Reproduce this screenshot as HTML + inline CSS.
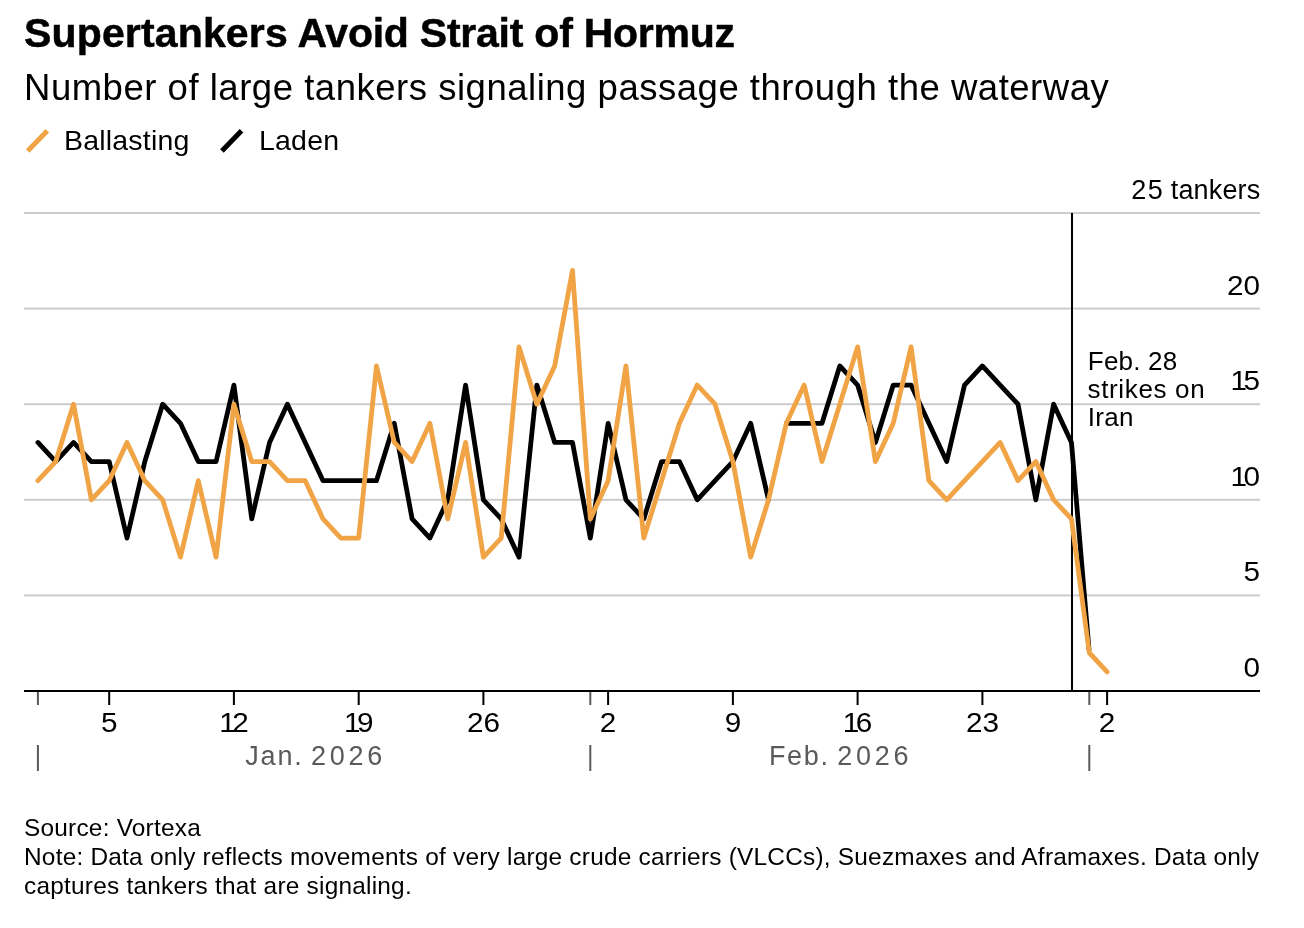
<!DOCTYPE html>
<html><head><meta charset="utf-8"><title>Supertankers Avoid Strait of Hormuz</title>
<style>
html,body{margin:0;padding:0;background:#fff}
svg{display:block}
text{font-family:"Liberation Sans",Arial,Helvetica,sans-serif;fill:#000}
.title{font-size:41px;font-weight:bold;letter-spacing:-0.1px;stroke:#000;stroke-width:0.5px;stroke-linejoin:round}
.sub{font-size:36.5px;letter-spacing:0.52px}
.leg{font-size:28.5px;letter-spacing:0.2px}
.ax{font-size:27px;letter-spacing:0px}
.lt{letter-spacing:0.2px}
.an{font-size:26px}
.mon{font-size:27px;fill:#5a5a5a}
.foot{font-size:24.4px;letter-spacing:0.23px}
</style></head><body>
<svg width="1304" height="928" viewBox="0 0 1304 928">
<rect width="1304" height="928" fill="#fff"/>
<text class="title" x="24" y="47"><tspan letter-spacing="0.15">Supertankers</tspan><tspan letter-spacing="-0.24"> Avoid Strait of Hormuz</tspan></text>
<text class="sub" x="24" y="100">Number of large tankers signaling passage through the waterway</text>
<line x1="27.7" y1="151" x2="47.3" y2="130.8" stroke="#f1a445" stroke-width="5"/>
<text class="leg" x="64" y="150">Ballasting</text>
<line x1="221.9" y1="151" x2="241.5" y2="130.8" stroke="#000" stroke-width="5"/>
<text class="leg" x="259" y="150">Laden</text>
<rect x="24" y="594.4" width="1236" height="2" fill="#cccccc"/><rect x="24" y="498.8" width="1236" height="2" fill="#cccccc"/><rect x="24" y="403.2" width="1236" height="2" fill="#cccccc"/><rect x="24" y="307.6" width="1236" height="2" fill="#cccccc"/><rect x="24" y="212.0" width="1236" height="2" fill="#cccccc"/>
<text class="ax" transform="translate(1260.0,677.0) scale(1.1,1)" text-anchor="end">0</text><text class="ax" transform="translate(1260.0,581.4) scale(1.1,1)" text-anchor="end">5</text><text class="ax" transform="translate(1260.0,485.8) scale(1.1,1)" text-anchor="end"><tspan letter-spacing="-3.2">1</tspan>0</text><text class="ax" transform="translate(1260.0,390.2) scale(1.1,1)" text-anchor="end"><tspan letter-spacing="-3.2">1</tspan>5</text><text class="ax" transform="translate(1260.0,294.6) scale(1.1,1)" text-anchor="end">20</text><text class="ax" x="1260.4" y="199.0" text-anchor="end" word-spacing="0.4"><tspan letter-spacing="1.5">2</tspan>5<tspan letter-spacing="0.15"> tankers</tspan></text>
<rect x="1071" y="213" width="2" height="478" fill="#000"/>
<text class="an" x="1087.8" y="369.5" letter-spacing="0.2">Feb. 28</text>
<text class="an" x="1087.5" y="398" letter-spacing="0.65">strikes on</text>
<text class="an" x="1087.8" y="425.5" letter-spacing="0.3">Iran</text>
<path d="M37.90,442.44 L55.72,461.56 L73.54,442.44 L91.36,461.56 L109.18,461.56 L127.00,538.04 L144.82,461.56 L162.64,404.20 L180.46,423.32 L198.28,461.56 L216.10,461.56 L233.92,385.08 L251.74,518.92 L269.56,442.44 L287.38,404.20 L305.20,442.44 L323.02,480.68 L340.84,480.68 L358.66,480.68 L376.48,480.68 L394.30,423.32 L412.12,518.92 L429.94,538.04 L447.76,499.80 L465.58,385.08 L483.40,499.80 L501.22,518.92 L519.04,557.16 L536.86,385.08 L554.68,442.44 L572.50,442.44 L590.32,538.04 L608.14,423.32 L625.96,499.80 L643.78,518.92 L661.60,461.56 L679.42,461.56 L697.24,499.80 L715.06,480.68 L732.88,461.56 L750.70,423.32 L768.52,499.80 M786.34,423.32 L804.16,423.32 L821.98,423.32 L839.80,365.96 L857.62,385.08 L875.44,442.44 L893.26,385.08 L911.08,385.08 L928.90,423.32 L946.72,461.56 L964.54,385.08 L982.36,365.96 L1000.18,385.08 L1018.00,404.20 L1035.82,499.80 L1053.64,404.20 L1071.46,442.44 L1089.01,649.61" fill="none" stroke="#000" stroke-width="4.8" stroke-linejoin="round" stroke-linecap="round"/>
<path d="M37.90,480.68 L55.72,461.56 L73.54,404.20 L91.36,499.80 L109.18,480.68 L127.00,442.44 L144.82,480.68 L162.64,499.80 L180.46,557.16 L198.28,480.68 L216.10,557.16 L233.92,404.20 L251.74,461.56 L269.56,461.56 L287.38,480.68 L305.20,480.68 L323.02,518.92 L340.84,538.04 L358.66,538.04 L376.48,365.96 L394.30,442.44 L412.12,461.56 L429.94,423.32 L447.76,518.92 L465.58,442.44 L483.40,557.16 L501.22,538.04 L519.04,346.84 L536.86,404.20 L554.68,365.96 L572.50,270.36 L590.32,518.92 L608.14,480.68 L625.96,365.96 L643.78,538.04 L661.60,480.68 L679.42,423.32 L697.24,385.08 L715.06,404.20 L732.88,461.56 L750.70,557.16 L768.52,499.80 L786.34,423.32 L804.16,385.08 L821.98,461.56 L839.80,404.20 L857.62,346.84 L875.44,461.56 L893.26,423.32 L911.08,346.84 L928.90,480.68 L946.72,499.80 L964.54,480.68 L982.36,461.56 L1000.18,442.44 L1018.00,480.68 L1035.82,461.56 L1053.64,499.80 L1071.46,518.92 L1089.28,652.76 L1107.10,671.88" fill="none" stroke="#f1a445" stroke-width="4.8" stroke-linejoin="round" stroke-linecap="round"/>
<rect x="108.2" y="691" width="2" height="14" fill="#000"/><text class="ax" transform="translate(109.2,732.0) scale(1.1,1)" text-anchor="middle">5</text><rect x="232.9" y="691" width="2" height="14" fill="#000"/><text class="ax" transform="translate(233.9,732.0) scale(1.1,1)" text-anchor="middle"><tspan letter-spacing="-3.2">1</tspan>2</text><rect x="357.7" y="691" width="2" height="14" fill="#000"/><text class="ax" transform="translate(358.7,732.0) scale(1.1,1)" text-anchor="middle"><tspan letter-spacing="-3.2">1</tspan>9</text><rect x="482.4" y="691" width="2" height="14" fill="#000"/><text class="ax" transform="translate(483.4,732.0) scale(1.1,1)" text-anchor="middle">26</text><rect x="607.1" y="691" width="2" height="14" fill="#000"/><text class="ax" transform="translate(608.1,732.0) scale(1.1,1)" text-anchor="middle">2</text><rect x="731.9" y="691" width="2" height="14" fill="#000"/><text class="ax" transform="translate(732.9,732.0) scale(1.1,1)" text-anchor="middle">9</text><rect x="856.6" y="691" width="2" height="14" fill="#000"/><text class="ax" transform="translate(857.6,732.0) scale(1.1,1)" text-anchor="middle"><tspan letter-spacing="-3.2">1</tspan>6</text><rect x="981.4" y="691" width="2" height="14" fill="#000"/><text class="ax" transform="translate(982.4,732.0) scale(1.1,1)" text-anchor="middle">23</text><rect x="1106.1" y="691" width="2" height="14" fill="#000"/><text class="ax" transform="translate(1107.1,732.0) scale(1.1,1)" text-anchor="middle">2</text>
<rect x="36.9" y="691" width="2" height="14" fill="#5a5a5a"/><rect x="36.9" y="745" width="2" height="26" fill="#5a5a5a"/><rect x="589.3" y="691" width="2" height="14" fill="#5a5a5a"/><rect x="589.3" y="745" width="2" height="26" fill="#5a5a5a"/><rect x="1088.3" y="691" width="2" height="14" fill="#5a5a5a"/><rect x="1088.3" y="745" width="2" height="26" fill="#5a5a5a"/>
<rect x="24" y="690" width="1236" height="2" fill="#000"/>
<text class="mon" x="245.2" y="765"><tspan letter-spacing="1.87">Jan.</tspan><tspan letter-spacing="-0.2"> </tspan><tspan letter-spacing="3.7">2026</tspan></text>
<text class="mon" x="769" y="765"><tspan letter-spacing="1.63">Feb.</tspan><tspan letter-spacing="0.3"> </tspan><tspan letter-spacing="3.7">2026</tspan></text>
<text class="foot" x="24" y="836">Source: Vortexa</text>
<text class="foot" x="24" y="865">Note: Data only reflects movements of very large crude carriers (VLCCs), Suezmaxes and Aframaxes. Data only</text>
<text class="foot" x="24" y="894">captures tankers that are signaling.</text>
</svg>
</body></html>
